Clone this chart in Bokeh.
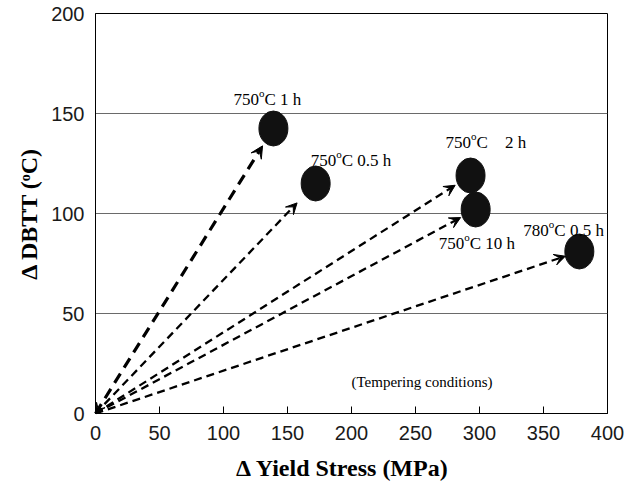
import math
from bokeh.plotting import figure
from bokeh.models import Label, Arrow, VeeHead, FixedTicker, Range1d
from bokeh.embed import file_html
from bokeh.resources import INLINE

# ---------------- data ----------------
x_stress = [139, 172, 293, 297, 378]          # Delta yield stress (MPa)
y_dbtt = [142.5, 115, 119, 102, 81]           # Delta DBTT (oC)
temp_c = ["750", "750", "750", "750", "780"]  # tempering temperature
hold_time = ["1 h", "0.5 h", "2 h", "10 h", "0.5 h"]
x_ticks = [0, 50, 100, 150, 200, 250, 300, 350, 400]
y_ticks = [0, 50, 100, 150, 200]
x_title = "\u0394 Yield Stress (MPa)"
y_title = "\u0394 DBTT (\u1d52C)"
note_text = "(Tempering conditions)"

# ---------------- layout ----------------
W, H = 632, 488
BL, BT = 95, 13
FW, FH = 512, 400
BR, BB = W - BL - FW, H - BT - FH
SX, SY = FW / 400.0, FH / 200.0
SERIF = "Liberation Serif"
SANS = "Liberation Sans"

# Times-like advance widths (em)
TR = {"0": .5, "1": .5, "2": .5, "3": .5, "4": .5, "5": .5, "6": .5, "7": .5,
      "8": .5, "9": .5, "C": .667, "h": .5, ".": .25, " ": .25, "\u00a0": .25, "o": .5}


def tw(s, table, size):
    return sum(table.get(c, 0.5) for c in s) * size


p = figure(width=W, height=H, output_backend="svg", toolbar_location=None,
           title=None, x_range=Range1d(0, 400), y_range=Range1d(0, 200),
           min_border_left=BL, min_border_right=BR, min_border_top=BT,
           min_border_bottom=BB)
p.background_fill_color = "white"
p.border_fill_color = "white"
p.outline_line_color = "black"
p.outline_line_width = 1

p.xaxis.ticker = FixedTicker(ticks=x_ticks)
p.yaxis.ticker = FixedTicker(ticks=y_ticks)
p.xgrid.visible = False
p.ygrid.grid_line_color = "#6a6a6a"
p.ygrid.grid_line_width = 1

for ax in (p.xaxis[0], p.yaxis[0]):
    ax.axis_line_color = "black"
    ax.axis_line_width = 1
    ax.minor_tick_line_color = None
    ax.major_label_text_font = SANS
    ax.major_label_text_font_size = "20px"
    ax.major_label_text_color = "#1a1a1a"
    ax.axis_label_text_font = SERIF
    ax.axis_label_text_font_size = "24px"
    ax.axis_label_text_font_style = "bold"
    ax.axis_label_text_color = "black"
# trailing no-break spaces shift the centred title slightly left, as in the original
p.xaxis.axis_label = x_title + "\u00a0\u00a0\u00a0"
p.yaxis.axis_label = y_title
p.xaxis.major_tick_in = 7
p.xaxis.major_tick_out = 0
p.xaxis.major_tick_line_color = "black"
p.xaxis.major_label_standoff = 12
p.xaxis.axis_label_standoff = 12
p.yaxis.major_tick_line_color = None
p.yaxis.major_tick_in = 0
p.yaxis.major_tick_out = 0
p.yaxis.major_label_standoff = 11
p.yaxis.axis_label_standoff = 6

# ---------------- arrows ----------------
EA, EB = 14.5, 17.5          # ellipse semi-axes (px)
gaps = [4, 11, 3, 2, 0]      # space between arrow tip and ellipse edge (px)
for i, (xv, yv) in enumerate(zip(x_stress, y_dbtt)):
    dx, dy = xv * SX, yv * SY
    L = math.hypot(dx, dy)
    ux, uy = dx / L, dy / L
    r = 1.0 / math.sqrt((ux / EA) ** 2 + (uy / EB) ** 2)
    f = (L - r - gaps[i]) / L
    thick = (i == 0)
    arr = Arrow(x_start=0, y_start=0, x_end=xv * f, y_end=yv * f,
                line_color="black",
                line_width=3.2 if thick else 2.3,
                line_dash="11 7" if thick else "8 5",
                end=VeeHead(size=12 if thick else 11, fill_color="black",
                            line_color="black", line_width=1),
                start=VeeHead(size=10, fill_color="black", line_color="black",
                              line_width=1) if thick else None)
    p.add_layout(arr)

p.ellipse(x=x_stress, y=y_dbtt, width=2 * EA, height=2 * EB,
          width_units="screen", height_units="screen",
          fill_color="#111111", line_color="#111111")


def add_pieces(x, y, x0, y0, pieces):
    cum = 0.0
    for text, size, rise, table in pieces:
        p.add_layout(Label(x=x, y=y, x_offset=x0 + cum, y_offset=y0 + rise,
                           text=text, text_font=SERIF,
                           text_font_size=f"{size}px",
                           text_color="black", text_align="left",
                           text_baseline="alphabetic"))
        cum += tw(text, table, size)


# ---------------- point labels ----------------
label_off = [(-40, 29), (-5, 23), (-25, 33), (-37, -34), (-56, 21)]
for i in range(len(x_stress)):
    sep = "\u00a0\u00a0\u00a0\u00a0" if i == 2 else " "
    pieces = [(temp_c[i], 17, 0, TR),
              ("o", 11, 6.5, TR),
              ("C" + sep + hold_time[i], 17, 0, TR)]
    add_pieces(x_stress[i], y_dbtt[i], label_off[i][0], label_off[i][1], pieces)

p.add_layout(Label(x=200, y=16, text=note_text, text_font=SERIF,
                   text_font_size="15px", text_color="black",
                   text_align="left", text_baseline="alphabetic"))

open("out.html", "w").write(file_html(p, INLINE))
